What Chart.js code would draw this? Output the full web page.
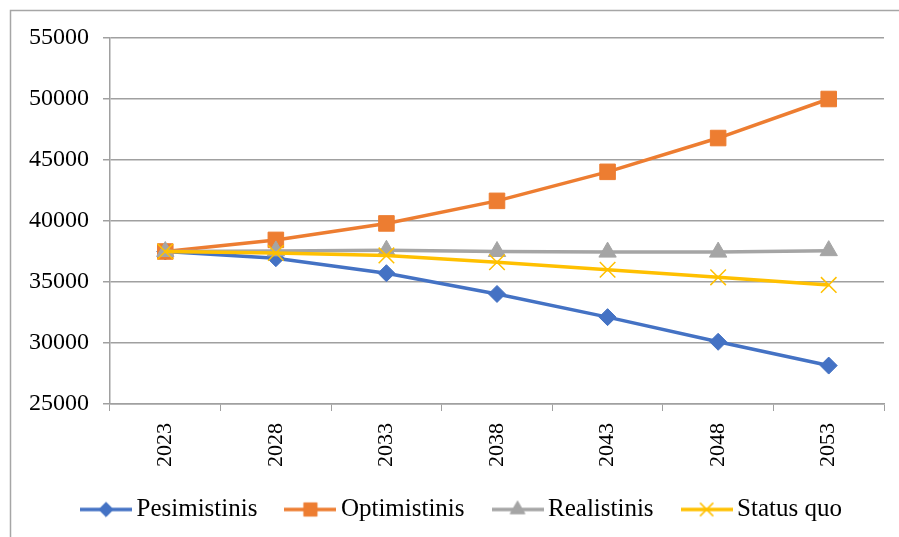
<!DOCTYPE html>
<html>
<head>
<meta charset="utf-8">
<script src="https://cdn.jsdelivr.net/npm/chart.js@4.4.0/dist/chart.umd.min.js"></script>
<style>
  html, body { margin: 0; padding: 0; background: #fff; }
  #wrap { position: relative; width: 899px; height: 537px; }
</style>
</head>
<body>
<div id="wrap"><canvas id="chart" width="899" height="537"></canvas></div>
<script>
const years = ["2023", "2028", "2033", "2038", "2043", "2048", "2053"];
const pesimistinis = [37500, 36950, 35720, 34020, 32120, 30100, 28150];
const optimistinis = [37500, 38450, 39800, 41650, 44030, 46800, 50000];
const realistinis = [37500, 37550, 37600, 37500, 37450, 37450, 37570];
const statusQuo = [37500, 37380, 37180, 36620, 36000, 35380, 34760];
const yMin = 25000;
const yMax = 55000;
const yStep = 5000;

const FONT = "'Liberation Serif', 'Times New Roman', serif";
const GRID = "#a0a0a0";

const series = [
  { label: "Pesimistinis", data: pesimistinis, color: "#4472c4", style: "rectRot", radius: 8.5, bw: 1 },
  { label: "Optimistinis", data: optimistinis, color: "#ed7d31", style: "rect", radius: 11, bw: 1 },
  { label: "Realistinis", data: realistinis, color: "#a5a5a5", style: "triangle", radius: 10, bw: 1 },
  { label: "Status quo", data: statusQuo, color: "#ffc000", style: "crossRot", radius: 11, bw: 1.5 },
];

function makeSwatch(s) {
  const c = document.createElement("canvas");
  c.width = 52;
  c.height = 24;
  const g = c.getContext("2d");
  g.strokeStyle = s.color;
  g.lineWidth = 3.5;
  g.beginPath();
  g.moveTo(0, 12);
  g.lineTo(52, 12);
  g.stroke();
  g.fillStyle = s.color;
  g.lineWidth = s.bw;
  Chart.helpers.drawPoint(g, { pointStyle: s.style, radius: s.radius * 0.85, rotation: 0, borderWidth: s.bw }, 26, 12);
  return c;
}

// white background + the grey frame on the left and top edges
const frame = {
  id: "frame",
  beforeDraw(chart) {
    const ctx = chart.ctx;
    ctx.save();
    ctx.fillStyle = "#fff";
    ctx.fillRect(0, 0, chart.width, chart.height);
    ctx.strokeStyle = "#a6a6a6";
    ctx.lineWidth = 1.5;
    ctx.beginPath();
    ctx.moveTo(10.5, chart.height);
    ctx.lineTo(10.5, 10.5);
    ctx.lineTo(chart.width, 10.5);
    ctx.stroke();
    ctx.restore();
  },
};

// fixed legend height, nudged right and up
const legendFix = {
  id: "legendFix",
  beforeLayout(chart) {
    const lg = chart.legend;
    if (lg && !lg._fixed) {
      const fit = lg.fit;
      lg.fit = function () {
        fit.call(this);
        this.height = 68;
      };
      lg._fixed = true;
    }
  },
  afterLayout(chart) {
    if (chart.legend) {
      chart.legend.left += 36;
      chart.legend.top -= 7;
    }
  },
};

const swatches = series.map(makeSwatch);

new Chart(document.getElementById("chart"), {
  type: "line",
  data: {
    labels: years,
    datasets: series.map((s, i) => ({
      label: s.label,
      data: s.data,
      borderColor: s.color,
      backgroundColor: s.color,
      borderWidth: 3.5,
      pointStyle: s.style,
      pointRadius: s.radius,
      pointHoverRadius: s.radius,
      pointBackgroundColor: s.color,
      pointBorderColor: s.color,
      pointBorderWidth: s.bw,
      tension: 0,
      order: series.length - i,
    })),
  },
  options: {
    responsive: false,
    animation: false,
    layout: { padding: { left: 10, right: 15, top: 38, bottom: 0 } },
    plugins: {
      tooltip: { enabled: false },
      legend: {
        position: "bottom",
        labels: {
          usePointStyle: true,
          pointStyleWidth: 36,
          padding: 35,
          color: "#000",
          font: { family: FONT, size: 25 },
          generateLabels: (chart) =>
            chart.data.datasets.map((ds, i) => ({
              text: ds.label,
              pointStyle: swatches[i],
              fillStyle: ds.borderColor,
              strokeStyle: ds.borderColor,
              lineWidth: 0,
              hidden: false,
              datasetIndex: i,
              fontColor: "#000",
            })),
        },
      },
    },
    scales: {
      x: {
        offset: true,
        afterFit: (scale) => { scale.height = 65; },
        grid: { display: true, drawOnChartArea: false, drawTicks: true, tickLength: 7, color: GRID, offset: true },
        border: { color: GRID, width: 1.5 },
        ticks: {
          color: "#000",
          font: { family: FONT, size: 22 },
          minRotation: 90,
          maxRotation: 90,
          padding: 12,
        },
      },
      y: {
        min: yMin,
        max: yMax,
        afterFit: (scale) => { scale.width = 100; },
        grid: { color: GRID, lineWidth: 1.5, tickLength: 7 },
        border: { color: GRID, width: 1.5 },
        ticks: {
          stepSize: yStep,
          color: "#000",
          font: { family: FONT, size: 24 },
          padding: 14,
          callback: (v) => String(v),
        },
      },
    },
  },
  plugins: [frame, legendFix],
});
</script>
</body>
</html>
